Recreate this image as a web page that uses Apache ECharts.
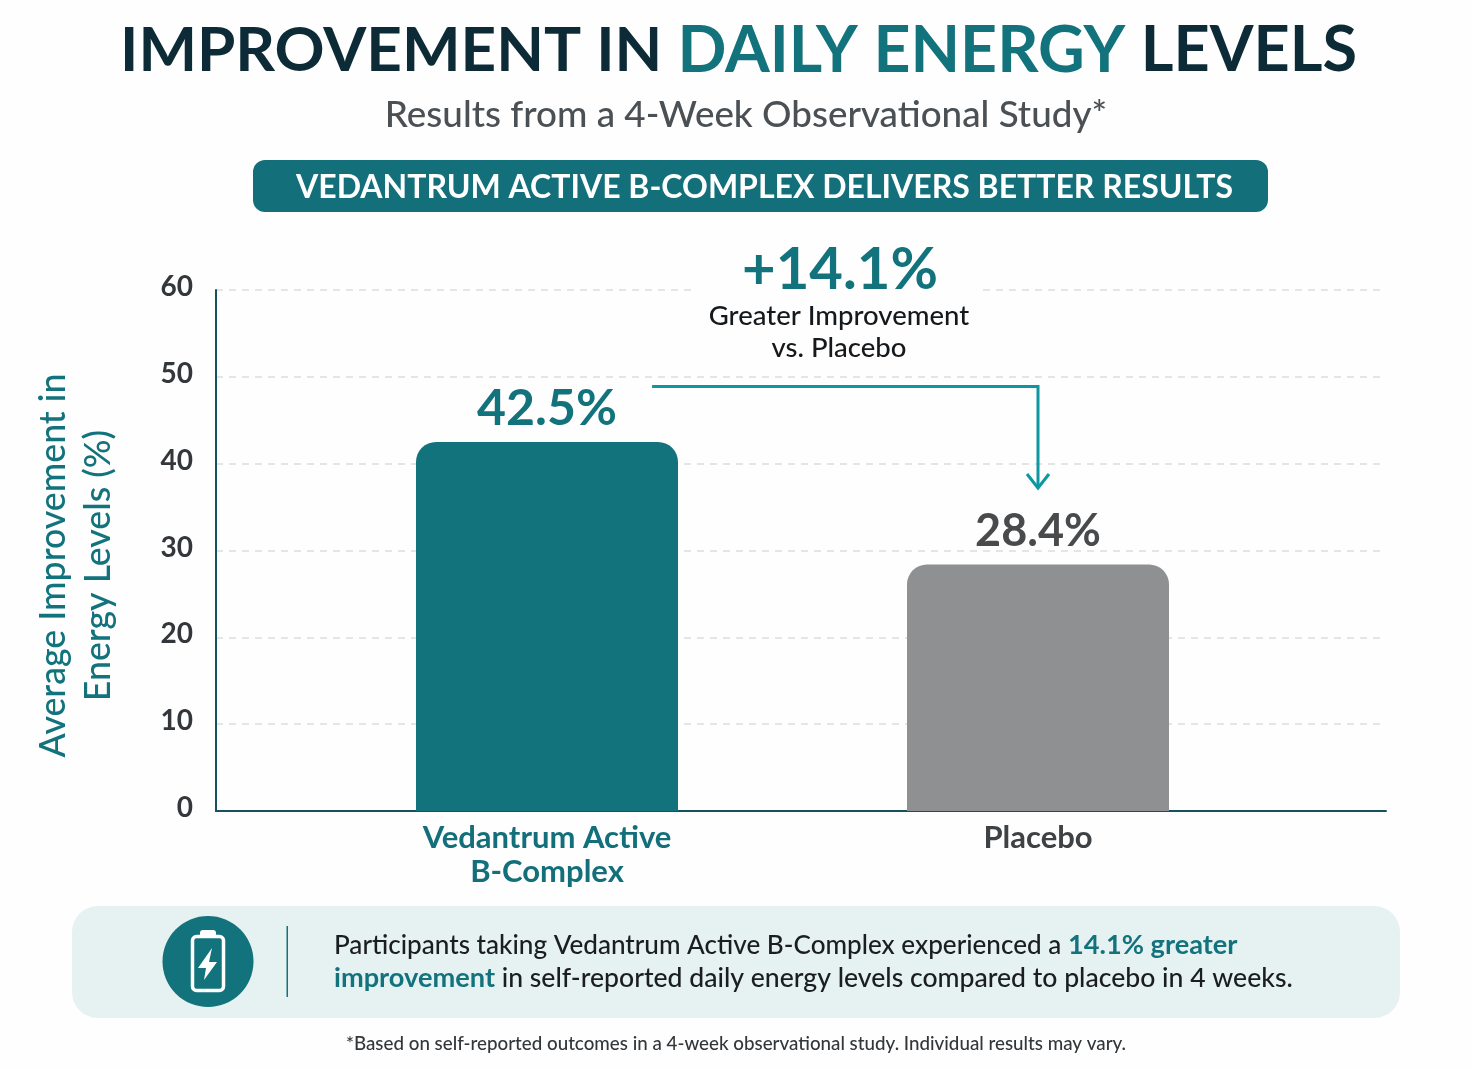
<!DOCTYPE html>
<html>
<head>
<meta charset="utf-8">
<style>
  html, body { margin: 0; padding: 0; background: #fefefe; }
  #chart { width: 1472px; height: 1069px; }
</style>
<script src="https://cdn.jsdelivr.net/npm/echarts@6/dist/echarts.min.js"></script>
</head>
<body>
<div id="chart"></div>
<script>
// Study results
const categories = ['Vedantrum Active\nB-Complex', 'Placebo'];
const improvement = [42.5, 28.4];
const valueLabels = ['42.5%', '28.4%'];
const barColors = ['#13737d', '#8f9091'];
const labelColors = ['#13737d', '#484a4c'];
const categoryColors = ['#13707a', '#3f4245'];

// Arrow between the two results, in axis values
const arrowLevel = [48.9];
const arrowTip = [37.2];

const TEAL = '#13737d';
const DARK = '#0c2b37';
const FONT = 'Lato';

const chart = echarts.init(document.getElementById('chart'));

const plotTop = 290, plotBottom = 258;

chart.setOption({
  backgroundColor: '#fefefe',
  animation: false,
  textStyle: { fontFamily: FONT },
  title: [
    {
      left: 733.5, top: 11, textAlign: 'center',
      text: '{a|IMPROVEMENT IN }{b|DAILY ENERGY }{c|LEVELS}',
      textStyle: {
        rich: {
          a: { fontFamily: FONT, fontSize: 62, fontWeight: 700, color: DARK, lineHeight: 70 },
          b: { fontFamily: FONT, fontSize: 64.4, fontWeight: 700, color: TEAL, lineHeight: 70 },
          c: { fontFamily: FONT, fontSize: 63, fontWeight: 700, color: DARK, lineHeight: 70 }
        }
      }
    },
    {
      left: 741, top: 88, textAlign: 'center',
      text: 'Results from a 4-Week Observational Study*',
      textStyle: { fontFamily: FONT, fontSize: 36.8, fontWeight: 500, color: '#4b5055', lineHeight: 44 }
    }
  ],
  grid: [
    { left: 216, right: 86, top: plotTop, bottom: plotBottom },
    { left: 301.5, right: 188.5, top: plotTop, bottom: plotBottom }
  ],
  xAxis: [
    {
      gridIndex: 0, type: 'category', data: ['', ''],
      axisLine: { lineStyle: { color: '#14525f', width: 2 } },
      axisTick: { show: false }, axisLabel: { show: false }, splitLine: { show: false }
    },
    {
      gridIndex: 1, type: 'category', data: categories,
      axisLine: { show: false }, axisTick: { show: false },
      axisLabel: {
        margin: 10, fontFamily: FONT, fontSize: 31, fontWeight: 700, lineHeight: 34,
        color: (v, i) => categoryColors[i]
      }
    }
  ],
  yAxis: [
    {
      gridIndex: 0, type: 'value', min: 0, max: 60, interval: 10,
      name: 'Average Improvement in\nEnergy Levels (%)',
      nameLocation: 'middle', nameRotate: 90, nameGap: 95,
      nameTextStyle: {
        fontFamily: FONT, fontSize: 35.7, fontWeight: 500, color: TEAL,
        lineHeight: 45, padding: [0, 30, 0, 0]
      },
      axisLine: { show: true, lineStyle: { color: '#14525f', width: 2 } },
      axisTick: { show: false },
      axisLabel: {
        margin: 23, fontFamily: FONT, fontSize: 28, fontWeight: 700, color: '#33363a',
        verticalAlign: 'bottom', lineHeight: 6
      },
      splitLine: { show: true, lineStyle: { color: '#dcdddd', type: [7, 6], width: 1.5 } }
    },
    {
      gridIndex: 1, type: 'value', min: 0, max: 60, interval: 10,
      axisLine: { show: false }, axisTick: { show: false },
      axisLabel: { show: false }, splitLine: { show: false }
    }
  ],
  series: [
    {
      type: 'bar', xAxisIndex: 1, yAxisIndex: 1, barWidth: 262, z: 3,
      data: improvement.map((v, i) => ({
        value: v,
        itemStyle: { color: barColors[i], borderRadius: [20, 20, 0, 0] },
        label: {
          show: true, position: 'top', distance: i === 0 ? 8 : 10,
          formatter: valueLabels[i], fontFamily: FONT, fontSize: i === 0 ? 50 : 45,
          fontWeight: 700, color: labelColors[i]
        }
      }))
    },
    {
      // Elbow arrow from the active result down to the placebo result
      type: 'custom', xAxisIndex: 1, yAxisIndex: 1, z: 4, silent: true,
      data: [[0, arrowLevel[0], 1, arrowTip[0]]],
      renderItem: (params, api) => {
        const start = api.coord([api.value(0), api.value(1)]);
        const tip = api.coord([api.value(2), api.value(3)]);
        const startX = start[0] + api.size([1, 0])[0] * 0.214;
        const style = { stroke: '#0d97a0', lineWidth: 3, fill: null };
        return {
          type: 'group',
          children: [
            {
              type: 'polyline',
              shape: { points: [[startX, start[1]], [tip[0], start[1]], [tip[0], tip[1]]] },
              style
            },
            {
              type: 'polyline',
              shape: { points: [[tip[0] - 11, tip[1] - 14], [tip[0], tip[1]], [tip[0] + 11, tip[1] - 14]] },
              style
            }
          ]
        };
      }
    }
  ],
  graphic: [
    // Headline banner
    {
      type: 'rect', z: 5,
      shape: { x: 253, y: 160, width: 1015, height: 52, r: 12 },
      style: { fill: '#13707a' }
    },
    {
      type: 'text', z: 6, x: 764.5, y: 188,
      style: {
        text: 'VEDANTRUM ACTIVE B-COMPLEX DELIVERS BETTER RESULTS',
        font: '700 32px ' + FONT, fill: '#ffffff', align: 'center', verticalAlign: 'middle'
      }
    },
    // Callout over the top gridline
    {
      type: 'rect', z: 5,
      shape: { x: 696, y: 284, width: 287, height: 12 },
      style: { fill: '#fefefe' }
    },
    {
      type: 'text', z: 6, x: 840, y: 270,
      style: {
        text: '+14.1%', font: '700 58px ' + FONT, fill: TEAL,
        align: 'center', verticalAlign: 'middle'
      }
    },
    {
      type: 'text', z: 6, x: 839, y: 332,
      style: {
        text: 'Greater Improvement\nvs. Placebo', font: '500 27.5px ' + FONT, fill: '#15191c',
        align: 'center', verticalAlign: 'middle', lineHeight: 32
      }
    },
    // Summary panel
    {
      type: 'rect', z: 1,
      shape: { x: 72, y: 906, width: 1328, height: 112, r: 26 },
      style: { fill: '#e6f1f2' }
    },
    {
      type: 'circle', z: 2,
      shape: { cx: 208, cy: 961.5, r: 45.5 },
      style: { fill: '#13737d' }
    },
    {
      type: 'rect', z: 3,
      shape: { x: 192.5, y: 936.5, width: 31, height: 54, r: 4 },
      style: { fill: null, stroke: '#ffffff', lineWidth: 3.5 }
    },
    {
      type: 'rect', z: 3,
      shape: { x: 200, y: 930, width: 16, height: 6, r: [3, 3, 0, 0] },
      style: { fill: '#ffffff' }
    },
    {
      type: 'polygon', z: 3,
      shape: { points: [[212, 948], [198, 968], [206, 968], [204, 980], [217, 962], [209, 962]] },
      style: { fill: '#ffffff' }
    },
    {
      type: 'rect', z: 2,
      shape: { x: 286.5, y: 926, width: 1.5, height: 71 },
      style: { fill: '#13737d' }
    },
    {
      type: 'text', z: 3, x: 334, y: 962,
      style: {
        text: '{n|Participants taking Vedantrum Active B-Complex experienced a }{h|14.1% greater}\n' +
              '{h|improvement}{m| in self-reported daily energy levels compared to placebo in 4 weeks.}',
        align: 'left', verticalAlign: 'middle',
        rich: {
          n: { font: '500 26.1px ' + FONT, fill: '#1a1e21', lineHeight: 33 },
          m: { font: '500 26.6px ' + FONT, fill: '#1a1e21', lineHeight: 33 },
          h: { font: '700 27.2px ' + FONT, fill: TEAL, lineHeight: 33 }
        }
      }
    },
    {
      type: 'text', z: 3, x: 736, y: 1044,
      style: {
        text: '*Based on self-reported outcomes in a 4-week observational study. Individual results may vary.',
        font: '500 18.75px ' + FONT, fill: '#33373a', align: 'center', verticalAlign: 'middle'
      }
    }
  ]
});
</script>
</body>
</html>
